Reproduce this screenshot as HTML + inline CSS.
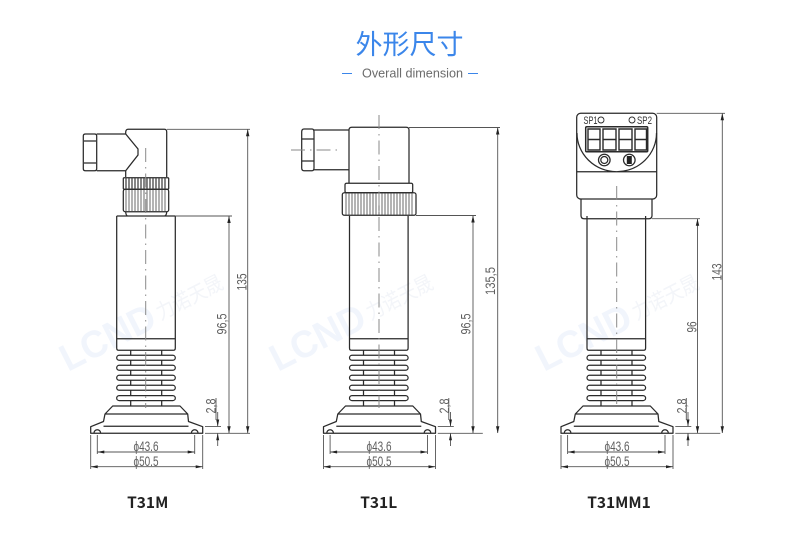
<!DOCTYPE html>
<html><head><meta charset="utf-8"><style>
html,body{margin:0;padding:0;background:#fff}
svg{display:block}
.l{fill:none;stroke:#2a2a2a;stroke-width:1.25}
.d{fill:none;stroke:#555;stroke-width:.9}
.c{fill:none;stroke:#8a8a8a;stroke-width:1;stroke-dasharray:14 5 1.5 5}
.k{stroke:#444;stroke-width:.8;fill:none}
.a{fill:#222;stroke:none}
.t{font-family:"Liberation Sans",sans-serif;font-size:14px;fill:#5f5f5f;text-anchor:middle}
.n{font-family:"Noto Sans CJK SC","Liberation Sans",sans-serif;font-size:15.5px;font-weight:700;fill:#222;text-anchor:middle}
.w{font-family:"Liberation Sans",sans-serif;font-weight:700;font-size:38px;fill:#f1f5fc}
.w2{font-family:"Liberation Sans","Noto Sans CJK SC",sans-serif;font-size:21px;fill:#f3f5f9}
.draw{filter:blur(.3px)}
</style></head><body>
<svg width="786" height="535" viewBox="0 0 786 535" xmlns="http://www.w3.org/2000/svg">
<defs>
<g id="base">
  <path class="l" d="M116.700 216V348q0 2.300 2 2.300H173.300q2 0 2-2.300V216M116.700 338.700H175.300"/>
  <path class="l" d="M130.700 350V406M161.700 350V406"/>
  <g class="l" stroke-width="1.500">
    <rect x="116.700" y="355.300" width="58.600" height="5" rx="2.500" fill="#fff"/>
    <rect x="116.700" y="365.300" width="58.600" height="5" rx="2.500" fill="#fff"/>
    <rect x="116.700" y="375.300" width="58.600" height="5" rx="2.500" fill="#fff"/>
    <rect x="116.700" y="385.300" width="58.600" height="5" rx="2.500" fill="#fff"/>
    <rect x="116.700" y="395.600" width="58.600" height="5" rx="2.500" fill="#fff"/>
  </g>
  <path class="l" d="M112.700 406H180L187.700 414 188.500 421.500 202.700 426.700V433.300H90.700V426.700L103.500 421.500 105 414ZM105 414H187.700M103.500 426.300H188.500" stroke-linejoin="round"/>
  <path class="l" d="M94 433a3.300 3.300 0 0 1 6.600 0M191.400 433a3.300 3.300 0 0 1 6.600 0"/>
  <path class="d" d="M97.300 435V454M194.700 435V454M97.300 452H194.700M90.700 435V469M202.700 435V469M90.700 466.700H202.700"/>
  <path class="a" d="M97.300 452l7-1.500v3zM194.700 452l-7-1.500v3zM90.700 466.700l7-1.500v3zM202.700 466.700l-7-1.500v3z"/>
  <path class="d" d="M205 426.600H221M205 433.300H250M217.700 412V426M217.700 433.500V446M216 398V420"/>
  <path class="a" d="M217.700 426.500l-1.500-7h3zM217.700 433.300l-1.500 7h3z"/>
</g>
</defs>

<text x="409.500" y="54" text-anchor="middle" style="font-family:'Noto Sans CJK SC','Liberation Sans',sans-serif;font-size:27px;fill:#3b86ea">外形尺寸</text>
<text x="412.500" y="77.500" text-anchor="middle" textLength="101" lengthAdjust="spacingAndGlyphs" style="font-family:'Liberation Sans',sans-serif;font-size:13px;fill:#6b6b6b">Overall dimension</text>
<path d="M342 73.500H352M468 73.500H478" stroke="#3b86ea" stroke-width="1"/>

<g transform="translate(68,372) rotate(-27)"><text class="w" textLength="102" lengthAdjust="spacingAndGlyphs">LCND</text><text class="w2" x="106" y="-4" textLength="72" lengthAdjust="spacingAndGlyphs">力诺天晟</text></g>
<g transform="translate(278,372) rotate(-27)"><text class="w" textLength="102" lengthAdjust="spacingAndGlyphs">LCND</text><text class="w2" x="106" y="-4" textLength="72" lengthAdjust="spacingAndGlyphs">力诺天晟</text></g>
<g transform="translate(544,372) rotate(-27)"><text class="w" textLength="102" lengthAdjust="spacingAndGlyphs">LCND</text><text class="w2" x="106" y="-4" textLength="72" lengthAdjust="spacingAndGlyphs">力诺天晟</text></g>

<g class="draw">
<use href="#base"/>
<use href="#base" x="232.800"/>
<use href="#base" x="470.300"/>

<path class="l" d="M96.700 134H125.700L138 149V155L125.700 170.700H96.700M125.700 134V132Q126 129.300 128 129.300H164.500Q166.700 129.300 166.700 132V177M125.700 170.700V177"/>
<path class="l" d="M85.500 134H94.500Q96.700 134 96.700 136V168.700Q96.700 170.700 94.500 170.700H85.500Q83.300 170.700 83.300 168.700V136Q83.300 134 85.500 134ZM84 141H96M84 163H96"/>
<rect class="l" x="123.300" y="177.700" width="45.400" height="11.600" rx="1"/>
<rect class="l" x="123.300" y="189.300" width="45.400" height="22.400" rx="2"/>
<path class="k" style="stroke-width:1.300px" d="M126 178V189M129 178V189M132 178V189M135 178V189M138 178V189M141 178V189M144 178V189M147 178V189M150 178V189M153 178V189M156 178V189M159 178V189M162 178V189M165 178V189"/>
<path class="k" d="M126 190V211M129 190V211M132 190V211M135 190V211M138 190V211M141 190V211M144 190V211M147 190V211M150 190V211M153 190V211M156 190V211M159 190V211M162 190V211M165 190V211"/>
<path class="l" d="M125.700 212Q126 216 128 216M166.700 212Q166.500 216 164 216M116.700 216H175.300"/>
<path class="c" d="M145.700 148V408"/>
<path class="d" d="M167 129.300H250M247.700 129.300V433M175.300 216H232M229 216V433"/>
<path class="a" d="M247.700 129.300l-1.700 7h3.400zM247.700 433.300l-1.700-7h3.400zM229 216l-1.700 7h3.400zM229 433.300l-1.700-7h3.400z"/>

<path class="l" d="M349 183.300V130Q349 127.300 352 127.300H406Q409 127.300 409 130V183.300M314 130H349M314 169.700H349"/>
<path class="l" d="M304 129H312Q314 129 314 132V168Q314 170.700 312 170.700H304Q301.700 170.700 301.700 168V132Q301.700 129 304 129ZM302 139H314M302 161H314"/>
<rect class="l" x="345" y="183.300" width="67.700" height="9.400" rx="1.500"/>
<rect class="l" x="342.300" y="192.700" width="73.700" height="22.600" rx="2"/>
<path class="k" d="M346 193V215M349 193V215M352 193V215M355 193V215M358 193V215M361 193V215M364 193V215M367 193V215M370 193V215M373 193V215M376 193V215M379 193V215M382 193V215M385 193V215M388 193V215M391 193V215M394 193V215M397 193V215M400 193V215M403 193V215M406 193V215M409 193V215M412 193V215"/>
<path class="c" d="M379 115V408M291 150H341"/>
<path class="d" d="M409 127.500H500M497.700 127.500V433M416 215.500H476M473 215.500V433"/>
<path class="a" d="M497.700 127.500l-1.700 7h3.400zM497.700 433.300l-1.700-7h3.400zM473 215.500l-1.700 7h3.400zM473 433.300l-1.700-7h3.400z"/>

<rect class="l" x="576.700" y="113.300" width="80" height="85.700" rx="4"/>
<path class="l" d="M577 133A40 38.500 0 0 0 616.700 171.700A40 38.500 0 0 0 656.500 133M577 171.700H656.500"/>
<path class="l" d="M581 199V215.500Q581 218.700 584 218.700H649Q652 218.700 652 215.500V199"/>
<rect class="l" x="585.700" y="126.700" width="62" height="25" rx="1" style="stroke-width:1.500px"/>
<g class="l">
  <path style="stroke-width:1.400px" d="M588 129H600V150H588ZM588 139.500H600M603 129H616V150H603ZM603 139.500H616M619 129H632V150H619ZM619 139.500H632M635 129H646.500V150H635ZM635 139.500H646.500"/>
  <circle cx="604.300" cy="160" r="5.800"/><circle cx="604.300" cy="160" r="3.500"/>
  <circle cx="629.300" cy="160" r="5.800"/>
  <circle cx="601" cy="120" r="3" style="stroke-width:.9px"/><circle cx="632" cy="120" r="3" style="stroke-width:.9px"/>
</g>
<rect x="626.800" y="156" width="5" height="8" fill="#222"/>
<text x="590.500" y="124" text-anchor="middle" style="font-family:'Liberation Sans',sans-serif;font-size:11px;fill:#333" textLength="14" lengthAdjust="spacingAndGlyphs">SP1</text>
<text x="644.500" y="124" text-anchor="middle" style="font-family:'Liberation Sans',sans-serif;font-size:11px;fill:#333" textLength="15" lengthAdjust="spacingAndGlyphs">SP2</text>
<path class="c" d="M616.700 186V408"/>
<path class="d" d="M656.700 113.300H725M722.300 113.300V433M652 218.700H700M697.500 218.700V433"/>
<path class="a" d="M722.300 113.300l-1.700 7h3.400zM722.300 433.300l-1.700-7h3.400zM697.500 218.700l-1.700 7h3.400zM697.500 433.300l-1.700-7h3.400z"/>

<text class="t" transform="translate(246.500,282) rotate(-90)" textLength="17" lengthAdjust="spacingAndGlyphs">135</text>
<text class="t" transform="translate(226.500,324) rotate(-90)" textLength="21" lengthAdjust="spacingAndGlyphs">96,5</text>
<text class="t" transform="translate(215.500,406) rotate(-90)" textLength="15" lengthAdjust="spacingAndGlyphs">2,8</text>
<text class="t" x="146" y="451" textLength="25" lengthAdjust="spacingAndGlyphs">ϕ43.6</text>
<text class="t" x="146" y="466" textLength="25" lengthAdjust="spacingAndGlyphs">ϕ50.5</text>
<text class="t" transform="translate(495,281) rotate(-90)" textLength="28" lengthAdjust="spacingAndGlyphs">135,5</text>
<text class="t" transform="translate(470.500,324) rotate(-90)" textLength="21" lengthAdjust="spacingAndGlyphs">96,5</text>
<text class="t" transform="translate(449,406) rotate(-90)" textLength="15" lengthAdjust="spacingAndGlyphs">2,8</text>
<text class="t" x="379" y="451" textLength="25" lengthAdjust="spacingAndGlyphs">ϕ43.6</text>
<text class="t" x="379" y="466" textLength="25" lengthAdjust="spacingAndGlyphs">ϕ50.5</text>
<text class="t" transform="translate(721.500,272) rotate(-90)" textLength="17" lengthAdjust="spacingAndGlyphs">143</text>
<text class="t" transform="translate(696.500,327) rotate(-90)" textLength="11" lengthAdjust="spacingAndGlyphs">96</text>
<text class="t" transform="translate(686.500,406) rotate(-90)" textLength="15" lengthAdjust="spacingAndGlyphs">2,8</text>
<text class="t" x="617" y="451" textLength="25" lengthAdjust="spacingAndGlyphs">ϕ43.6</text>
<text class="t" x="617" y="466" textLength="25" lengthAdjust="spacingAndGlyphs">ϕ50.5</text>
</g>

<text class="n" x="147.700" y="508">T31M</text>
<text class="n" x="378.700" y="508">T31L</text>
<text class="n" x="619" y="508">T31MM1</text>
</svg>
</body></html>
